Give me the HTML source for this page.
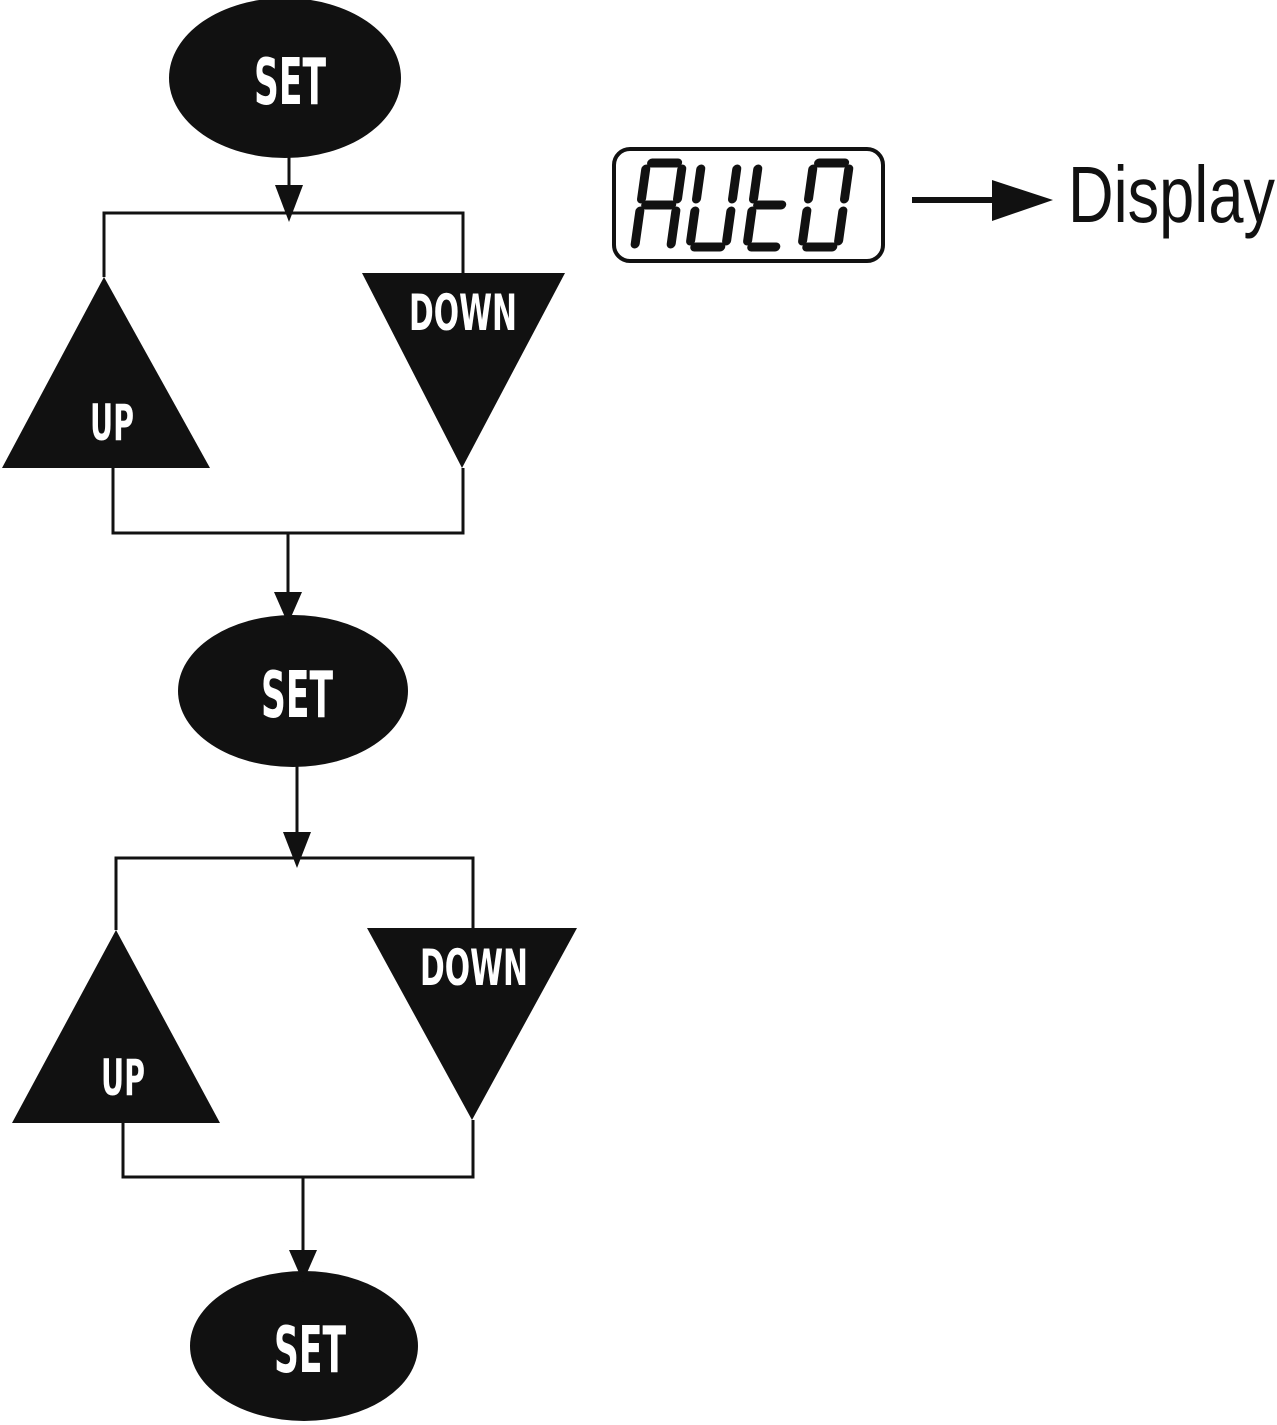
<!DOCTYPE html>
<html><head><meta charset="utf-8"><style>
html,body{margin:0;padding:0;background:#fff;}
svg{display:block;}
.t{font-family:"DejaVu Sans Condensed","Liberation Sans Narrow","Liberation Sans",sans-serif;font-weight:bold;fill:#fff;text-anchor:middle;}
</style></head><body>
<svg width="1277" height="1425" viewBox="0 0 1277 1425" xmlns="http://www.w3.org/2000/svg">
<g fill="#111" stroke="none">
<ellipse cx="285" cy="78" rx="116" ry="80"/>
<ellipse cx="293" cy="691" rx="115" ry="76"/>
<ellipse cx="304" cy="1346" rx="114" ry="75"/>
<polygon points="104,277 210,468 2,468"/>
<polygon points="362,273 565,273 462,468"/>
<polygon points="116,930 220,1123 12,1123"/>
<polygon points="367,928 577,928 472,1120"/>
<polygon points="275,185 303,185 289,222"/>
<polygon points="274,592 302,592 288,624"/>
<polygon points="283,832 311,832 297,868"/>
<polygon points="289,1250 317,1250 303,1282"/>
<polygon points="992,180 1053,200 992,221"/>
</g>
<g stroke="#111" stroke-width="3" fill="none">
<line x1="289" y1="150" x2="289" y2="190"/>
<polyline points="104,277 104,213 463,213 463,273"/>
<polyline points="113,468 113,533 463,533 463,468"/>
<line x1="288" y1="533" x2="288" y2="595"/>
<line x1="297" y1="765" x2="297" y2="835"/>
<polyline points="116,930 116,858 473,858 473,928"/>
<polyline points="123,1123 123,1177 473,1177 473,1120"/>
<line x1="303" y1="1177" x2="303" y2="1255"/>
<rect x="614" y="149" width="269" height="112" rx="16" stroke-width="4"/>
</g>
<line x1="912" y1="200" x2="1000" y2="200" stroke="#111" stroke-width="6"/>
<g stroke="#111" stroke-width="9" stroke-linecap="round" fill="none">
<g transform="translate(645,160) skewX(-8)">
<line x1="7" y1="3" x2="33" y2="3"/><line x1="2" y1="9" x2="2" y2="39"/><line x1="38" y1="9" x2="38" y2="39"/>
<line x1="7" y1="45" x2="33" y2="45"/><line x1="2" y1="51" x2="2" y2="84"/><line x1="38" y1="51" x2="38" y2="84"/>
</g>
<g transform="translate(700,160) skewX(-8)">
<line x1="2" y1="9" x2="2" y2="39"/><line x1="38" y1="9" x2="38" y2="39"/>
<line x1="2" y1="51" x2="2" y2="81"/><line x1="38" y1="51" x2="38" y2="81"/><line x1="7" y1="87" x2="33" y2="87"/>
</g>
<g transform="translate(757,160) skewX(-8)">
<line x1="2" y1="9" x2="2" y2="39"/><line x1="7" y1="45" x2="31" y2="45"/>
<line x1="2" y1="51" x2="2" y2="81"/><line x1="7" y1="87" x2="31" y2="87"/>
</g>
<g transform="translate(812,160) skewX(-8)">
<line x1="7" y1="3" x2="33" y2="3"/><line x1="2" y1="9" x2="2" y2="39"/><line x1="38" y1="9" x2="38" y2="39"/>
<line x1="2" y1="51" x2="2" y2="81"/><line x1="38" y1="51" x2="38" y2="81"/><line x1="7" y1="87" x2="33" y2="87"/>
</g>
</g>
<text x="1068" y="222" font-family="Liberation Sans, sans-serif" font-size="80" fill="#111" textLength="207" lengthAdjust="spacingAndGlyphs">Display</text>
<text class="t" x="290" y="104" font-size="64" textLength="72" lengthAdjust="spacingAndGlyphs">SET</text>
<text class="t" x="297" y="717" font-size="64" textLength="72" lengthAdjust="spacingAndGlyphs">SET</text>
<text class="t" x="310" y="1372" font-size="64" textLength="72" lengthAdjust="spacingAndGlyphs">SET</text>
<text class="t" x="463" y="330" font-size="50" textLength="108" lengthAdjust="spacingAndGlyphs">DOWN</text>
<text class="t" x="474" y="985" font-size="50" textLength="108" lengthAdjust="spacingAndGlyphs">DOWN</text>
<text class="t" x="112" y="440" font-size="50" textLength="44" lengthAdjust="spacingAndGlyphs">UP</text>
<text class="t" x="123" y="1095" font-size="50" textLength="44" lengthAdjust="spacingAndGlyphs">UP</text>
</svg>
</body></html>
